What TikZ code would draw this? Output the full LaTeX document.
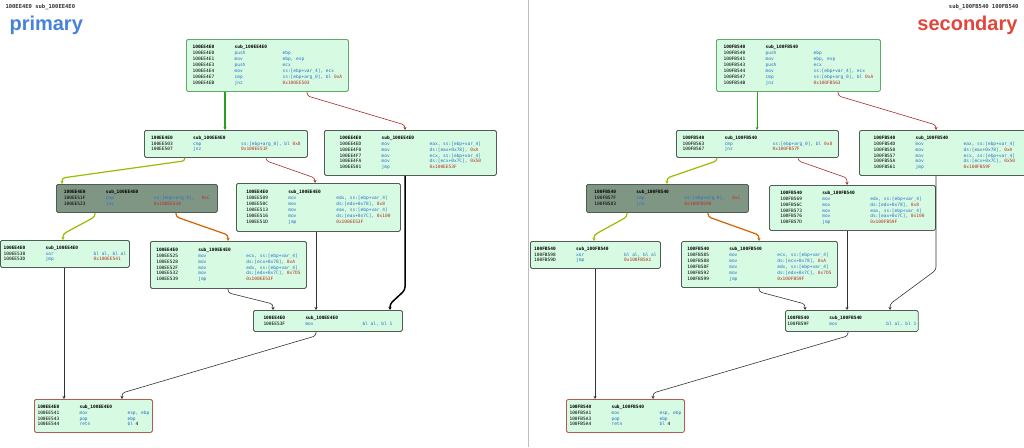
\documentclass[tikz,border=0pt]{standalone}
\usepackage{fontspec}
\setmainfont{Liberation Sans}
\setmonofont{DejaVu Sans Mono}
\usetikzlibrary{arrows.meta,positioning}
\definecolor{blkfill}{RGB}{214,250,226}
\definecolor{blkgreen}{RGB}{96,170,104}
\definecolor{blkgrey}{RGB}{80,92,84}
\definecolor{blkdark}{RGB}{128,150,132}
\definecolor{blkred}{RGB}{180,90,80}
\definecolor{asmblue}{RGB}{40,110,200}
\definecolor{asmred}{RGB}{180,50,40}
\definecolor{edgegreen}{RGB}{40,160,30}
\definecolor{edgelime}{RGB}{150,190,0}
\definecolor{edgeorange}{RGB}{210,100,0}
\definecolor{edgered}{RGB}{170,40,40}
\definecolor{titleblue}{RGB}{70,130,220}
\definecolor{titlered}{RGB}{225,70,60}
\newcommand{\mn}[1]{\textcolor{asmblue}{#1}}
\newcommand{\cn}[1]{\textcolor{asmred}{#1}}
\newcommand{\hd}[2]{\textbf{#1} & \textbf{#2} & \\}
\begin{document}
\begin{tikzpicture}[x=1pt,y=-1pt,
    >={Stealth[length=3pt,width=3pt]},
    blk/.style={rectangle, rounded corners=1.5pt, draw=#1, line width=0.8pt, fill=blkfill,
                anchor=north west, inner sep=2pt,
                font=\ttfamily\fontsize{4.5}{5.9}\selectfont, align=left},
    blk/.default=blkgreen,
    arrow/.style={->, line width=0.6pt, rounded corners=3pt}
]
\useasboundingbox (0,0) rectangle (1024,447);
\draw[gray!50, line width=1pt] (528,0) -- (528,447);
% Titles
\node[anchor=north west, font=\ttfamily\bfseries\fontsize{5.5}{6.5}\selectfont, text=gray!40!black] (lhead) at (2,1) {100EE4E0 sub\_100EE4E0};
\node[anchor=north east, font=\ttfamily\bfseries\fontsize{5.5}{6.5}\selectfont, text=gray!40!black] (rhead) at (1022,1) {sub\_100FB540 100FB540};
\node[anchor=west, font=\bfseries\fontsize{20}{24}\selectfont, text=titleblue] (lname) at (6,25) {primary};
\node[anchor=east, font=\bfseries\fontsize{20}{24}\selectfont, text=titlered] (rname) at (1021,25) {secondary};

% Primary
\node[blk, minimum width=162pt, minimum height=52pt] (pa) at (186,39) {\begin{tabular}{@{}p{30pt}p{36pt}l@{}}
\hd{100EE4E0}{sub\_100EE4E0}
100EE4E0 & \mn{push} & \mn{ebp}\\
100EE4E1 & \mn{mov} & \mn{ebp, esp}\\
100EE4E3 & \mn{push} & \mn{ecx}\\
100EE4E4 & \mn{mov} & \mn{ss:[ebp+var\_4], ecx}\\
100EE4E7 & \mn{cmp} & \mn{ss:[ebp+arg\_0], bl} \cn{0xA}\\
100EE4EB & \mn{jnz} & \cn{0x100EE503}\end{tabular}};
\node[blk=blkgrey, minimum width=163pt, minimum height=27pt] (pb) at (144,130) {\begin{tabular}{@{}p{30pt}p{36pt}l@{}}
\hd{100EE4E0}{sub\_100EE4E0}
100EE503 & \mn{cmp} & \mn{ss:[ebp+arg\_0], bl} \cn{0x8}\\
100EE507 & \mn{jnz} & \cn{0x100EE51F}\end{tabular}};
\node[blk=blkgrey, minimum width=172pt, minimum height=45pt] (pc) at (324,130) {\begin{tabular}{@{}p{30pt}p{36pt}l@{}}
\hd{100EE4E0}{sub\_100EE4E0}
100EE4ED & \mn{mov} & \mn{eax, ss:[ebp+var\_4]}\\
100EE4F0 & \mn{mov} & \mn{ds:[eax+0x78],} \cn{0xA}\\
100EE4F7 & \mn{mov} & \mn{ecx, ss:[ebp+var\_4]}\\
100EE4FA & \mn{mov} & \mn{ds:[ecx+0x7C],} \cn{0x50}\\
100EE501 & \mn{jmp} & \cn{0x100EE53F}\end{tabular}};
\node[blk=blkgrey, fill=blkdark, minimum width=161pt, minimum height=28pt] (pd) at (56,184) {\begin{tabular}{@{}p{30pt}p{36pt}l@{}}
\hd{100EE4E0}{sub\_100EE4E0}
100EE51F & \mn{cmp} & \mn{ss:[ebp+arg\_0],} \quad\cn{0xC}\\
100EE523 & \mn{jnz} & \cn{0x100EE538}\end{tabular}};
\node[blk=blkgrey, minimum width=164pt, minimum height=48pt] (pe) at (236,183) {\begin{tabular}{@{}p{30pt}p{36pt}l@{}}
\hd{100EE4E0}{sub\_100EE4E0}
100EE509 & \mn{mov} & \mn{edx, ss:[ebp+var\_4]}\\
100EE50C & \mn{mov} & \mn{ds:[edx+0x78],} \cn{0x8}\\
100EE513 & \mn{mov} & \mn{eax, ss:[ebp+var\_4]}\\
100EE516 & \mn{mov} & \mn{ds:[eax+0x7C],} \cn{0x100}\\
100EE51D & \mn{jmp} & \cn{0x100EE53F}\end{tabular}};
\node[blk=blkgrey, minimum width=129pt, minimum height=27pt] (pf) at (0,240) {\begin{tabular}{@{}p{30pt}p{36pt}l@{}}
\hd{100EE4E0}{sub\_100EE4E0}
100EE538 & \mn{xor} & \mn{bl al, bl al}\\
100EE53D & \mn{jmp} & \cn{0x100EE541}\end{tabular}};
\node[blk=blkgrey, minimum width=156pt, minimum height=47pt] (pg) at (150,241) {\begin{tabular}{@{}p{30pt}p{36pt}l@{}}
\hd{100EE4E0}{sub\_100EE4E0}
100EE525 & \mn{mov} & \mn{ecx, ss:[ebp+var\_4]}\\
100EE528 & \mn{mov} & \mn{ds:[ecx+0x78],} \cn{0xA}\\
100EE52F & \mn{mov} & \mn{edx, ss:[ebp+var\_4]}\\
100EE532 & \mn{mov} & \mn{ds:[edx+0x7C],} \cn{0x7D5}\\
100EE539 & \mn{jmp} & \cn{0x100EE53F}\end{tabular}};
\node[blk=blkgrey, minimum width=149pt, minimum height=21pt] (ph) at (253,310) {\begin{tabular}{@{}p{30pt}p{36pt}l@{}}
\hd{100EE4E0}{sub\_100EE4E0}
100EE53F & \mn{mov} & \qquad\mn{bl al, bl 1}\end{tabular}};
\node[blk=blkred, minimum width=118pt, minimum height=33pt] (pi) at (34,399) {\begin{tabular}{@{}p{30pt}p{36pt}l@{}}
\hd{100EE4E0}{sub\_100EE4E0}
100EE541 & \mn{mov} & \mn{esp, ebp}\\
100EE543 & \mn{pop} & \mn{ebp}\\
100EE544 & \mn{retn} & \mn{bl} 4\end{tabular}};

\draw[arrow, edgegreen, line width=1.3pt] (pa.south -| 225,0) -- (pb.north -| 225,0);
\draw[arrow, edgered] (pa.south -| 307,0) -- ++(0,4) -- (405,125) -- (pc.north -| 405,0);
\draw[arrow, edgelime, line width=1.2pt] (pb.south -| 185,0) -- ++(0,3) -- (62,178) -- (pd.north -| 62,0);
\draw[arrow, edgered] (pb.south -| 266,0) -- ++(0,3) -- (315,178) -- (pe.north -| 315,0);
\draw[arrow, edgelime, line width=1.2pt] (pd.south -| 95,0) -- ++(0,4) -- (63,234) -- (pf.north -| 63,0);
\draw[arrow, edgeorange, line width=1.2pt] (pd.south -| 176,0) -- ++(0,4) -- (228,235) -- (pg.north -| 228,0);
\draw[arrow, black!80] (pe.south -| 316,0) -- (ph.north -| 316,0);
\draw[arrow, black, line width=1.5pt] (pc.south -| 405,0) -- (405,290) -- (390,304) -- (ph.north -| 390,0);
\draw[arrow, black!80] (pg.south -| 228,0) -- ++(0,4) -- (273,304) -- (ph.north -| 273,0);
\draw[arrow, black!80] (pf.south -| 64,0) -- (pi.north -| 64,0);
\draw[arrow, black!80] (ph.south -| 316,0) -- ++(0,4) -- (122,393) -- (pi.north -| 122,0);

% Secondary
\node[blk, minimum width=164pt, minimum height=52pt] (sa) at (716,39) {\begin{tabular}{@{}p{30pt}p{36pt}l@{}}
\hd{100FB540}{sub\_100FB540}
100FB540 & \mn{push} & \mn{ebp}\\
100FB541 & \mn{mov} & \mn{ebp, esp}\\
100FB543 & \mn{push} & \mn{ecx}\\
100FB544 & \mn{mov} & \mn{ss:[ebp+var\_4], ecx}\\
100FB547 & \mn{cmp} & \mn{ss:[ebp+arg\_0], bl} \cn{0xA}\\
100FB54B & \mn{jnz} & \cn{0x100FB563}\end{tabular}};
\node[blk=blkgrey, minimum width=162pt, minimum height=27pt] (sb) at (676,130) {\begin{tabular}{@{}p{30pt}p{36pt}l@{}}
\hd{100FB540}{sub\_100FB540}
100FB563 & \mn{cmp} & \mn{ss:[ebp+arg\_0], bl} \cn{0x8}\\
100FB567 & \mn{jnz} & \cn{0x100FB57F}\end{tabular}};
\node[blk=blkgrey, minimum width=170pt, minimum height=45pt] (sc) at (859,130) {\begin{tabular}{@{}p{30pt}p{36pt}l@{}}
\hd{100FB540}{sub\_100FB540}
100FB54D & \mn{mov} & \mn{eax, ss:[ebp+var\_4]}\\
100FB550 & \mn{mov} & \mn{ds:[eax+0x78],} \cn{0xA}\\
100FB557 & \mn{mov} & \mn{ecx, ss:[ebp+var\_4]}\\
100FB55A & \mn{mov} & \mn{ds:[ecx+0x7C],} \cn{0x50}\\
100FB561 & \mn{jmp} & \cn{0x100FB59F}\end{tabular}};
\node[blk=blkgrey, fill=blkdark, minimum width=162pt, minimum height=28pt] (sd) at (586,184) {\begin{tabular}{@{}p{30pt}p{36pt}l@{}}
\hd{100FB540}{sub\_100FB540}
100FB57F & \mn{cmp} & \mn{ss:[ebp+arg\_0],} \quad\cn{0xC}\\
100FB583 & \mn{jnz} & \cn{0x100FB598}\end{tabular}};
\node[blk=blkgrey, minimum width=166pt, minimum height=45pt] (se) at (769,185) {\begin{tabular}{@{}p{30pt}p{36pt}l@{}}
\hd{100FB540}{sub\_100FB540}
100FB569 & \mn{mov} & \mn{edx, ss:[ebp+var\_4]}\\
100FB56C & \mn{mov} & \mn{ds:[edx+0x78],} \cn{0x8}\\
100FB573 & \mn{mov} & \mn{eax, ss:[ebp+var\_4]}\\
100FB576 & \mn{mov} & \mn{ds:[eax+0x7C],} \cn{0x100}\\
100FB57D & \mn{jmp} & \cn{0x100FB59F}\end{tabular}};
\node[blk=blkgrey, minimum width=130pt, minimum height=27pt] (sf) at (530,241) {\begin{tabular}{@{}p{30pt}p{36pt}l@{}}
\hd{100FB540}{sub\_100FB540}
100FB598 & \mn{xor} & \mn{bl al, bl al}\\
100FB59D & \mn{jmp} & \cn{0x100FB5A1}\end{tabular}};
\node[blk=blkgrey, minimum width=156pt, minimum height=46pt] (sg) at (681,241) {\begin{tabular}{@{}p{30pt}p{36pt}l@{}}
\hd{100FB540}{sub\_100FB540}
100FB585 & \mn{mov} & \mn{ecx, ss:[ebp+var\_4]}\\
100FB588 & \mn{mov} & \mn{ds:[ecx+0x78],} \cn{0xA}\\
100FB58F & \mn{mov} & \mn{edx, ss:[ebp+var\_4]}\\
100FB592 & \mn{mov} & \mn{ds:[edx+0x7C],} \cn{0x7D5}\\
100FB599 & \mn{jmp} & \cn{0x100FB59F}\end{tabular}};
\node[blk=blkgrey, minimum width=128pt, minimum height=21pt] (sh) at (785,310) {\begin{tabular}{@{}p{30pt}p{36pt}l@{}}
\hd{100FB540}{sub\_100FB540}
100FB59F & \mn{mov} & \qquad\mn{bl al, bl 1}\end{tabular}};
\node[blk=blkred, minimum width=118pt, minimum height=33pt] (si) at (566,399) {\begin{tabular}{@{}p{30pt}p{36pt}l@{}}
\hd{100FB540}{sub\_100FB540}
100FB5A1 & \mn{mov} & \mn{esp, ebp}\\
100FB5A3 & \mn{pop} & \mn{ebp}\\
100FB5A4 & \mn{retn} & \mn{bl} 4\end{tabular}};

\draw[arrow, edgegreen] (sa.south -| 757,0) -- (sb.north -| 757,0);
\draw[arrow, edgered] (sa.south -| 838,0) -- ++(0,4) -- (936,125) -- (sc.north -| 936,0);
\draw[arrow, edgelime, line width=1.2pt] (sb.south -| 717,0) -- ++(0,3) -- (667,178) -- (sd.north -| 667,0);
\draw[arrow, edgered] (sb.south -| 798,0) -- ++(0,3) -- (847,178) -- (se.north -| 847,0);
\draw[arrow, edgelime, line width=1.2pt] (sd.south -| 627,0) -- ++(0,4) -- (594,235) -- (sf.north -| 594,0);
\draw[arrow, edgeorange, line width=1.2pt] (sd.south -| 708,0) -- ++(0,4) -- (759,235) -- (sg.north -| 759,0);
\draw[arrow, black!80] (se.south -| 847,0) -- (sh.north -| 847,0);
\draw[arrow, black!80] (sc.south -| 936,0) -- (936,270) -- (890,304) -- (sh.north -| 890,0);
\draw[arrow, black!80] (sg.south -| 759,0) -- ++(0,4) -- (805,304) -- (sh.north -| 805,0);
\draw[arrow, black!80] (sf.south -| 595,0) -- (si.north -| 595,0);
\draw[arrow, black!80] (sh.south -| 848,0) -- ++(0,4) -- (653,393) -- (si.north -| 653,0);
\end{tikzpicture}
\end{document}
